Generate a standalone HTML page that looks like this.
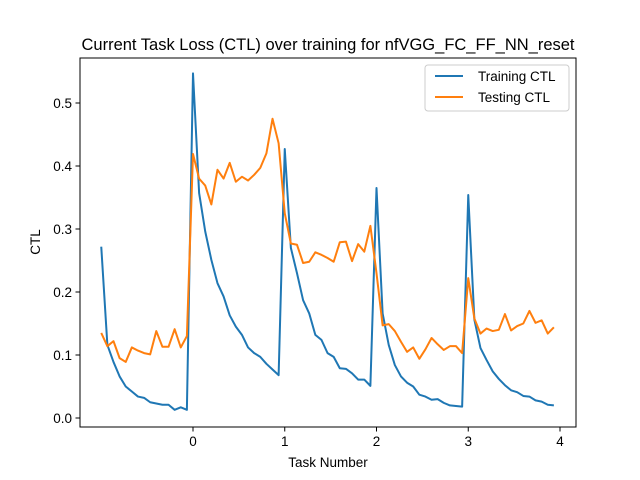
<!DOCTYPE html>
<html><head><meta charset="utf-8"><style>
body{margin:0;background:#fff}
svg{font-family:"Liberation Sans","DejaVu Sans",sans-serif;display:block}
</style></head><body>
<svg width="640" height="480" viewBox="0 0 640 480">
<rect x="0" y="0" width="640" height="480" fill="#fff"/>
<text x="328" y="50" font-size="16.5" text-anchor="middle">Current Task Loss (CTL) over training for nfVGG_FC_FF_NN_reset</text>
<g id="ticks"></g>
<g id="series"></g>
<rect x="80" y="58" width="496" height="369" fill="none" stroke="#000" stroke-width="1"/>
<text x="328" y="467" font-size="13.5" text-anchor="middle">Task Number</text>
<text x="40" y="242" font-size="13.5" text-anchor="middle" transform="rotate(-90 40 242)">CTL</text>
<g>
<rect x="425" y="65" width="144" height="46" rx="3" fill="#fff" fill-opacity="0.8" stroke="#ccc"/>
<line x1="435" y1="76" x2="463" y2="76" stroke="#1f77b4" stroke-width="2"/>
<text x="478" y="81" font-size="13.5">Training CTL</text>
<line x1="435" y1="97" x2="463" y2="97" stroke="#ff7f0e" stroke-width="2"/>
<text x="478" y="102" font-size="13.5">Testing CTL</text>
</g>
</svg>
<script>
const xTicks = [0, 1, 2, 3, 4];
const yTicks = [0.0, 0.1, 0.2, 0.3, 0.4, 0.5];
const yTickLabels = ["0.0", "0.1", "0.2", "0.3", "0.4", "0.5"];
const training = [0.272,0.116,0.089,0.066,0.050,0.042,0.034,0.032,0.025,0.023,0.021,0.021,0.013,0.017,0.013,
0.547,0.357,0.296,0.251,0.214,0.193,0.163,0.145,0.132,0.112,0.103,0.097,0.086,0.077,0.068,
0.427,0.270,0.230,0.187,0.166,0.132,0.124,0.103,0.097,0.079,0.078,0.071,0.061,0.061,0.051,
0.365,0.166,0.116,0.084,0.066,0.056,0.050,0.037,0.034,0.029,0.030,0.024,0.020,0.019,0.018,
0.354,0.156,0.111,0.092,0.074,0.062,0.052,0.044,0.041,0.035,0.034,0.028,0.026,0.021,0.020];
const testing = [0.135,0.114,0.122,0.095,0.089,0.112,0.107,0.103,0.101,0.138,0.113,0.113,0.141,0.112,0.130,
0.419,0.380,0.369,0.339,0.394,0.380,0.405,0.375,0.383,0.377,0.386,0.397,0.420,0.475,0.436,
0.325,0.277,0.275,0.246,0.248,0.263,0.259,0.254,0.248,0.279,0.280,0.249,0.276,0.264,0.305,
0.230,0.147,0.149,0.138,0.121,0.105,0.112,0.094,0.109,0.127,0.117,0.108,0.114,0.114,0.103,
0.222,0.158,0.134,0.142,0.138,0.140,0.165,0.139,0.146,0.150,0.170,0.151,0.155,0.134,0.144];
const stepsPerTask = 15;
const startTask = -1;
const NS = "http://www.w3.org/2000/svg";
function xScale(v){ return 193 + v * 91.75; }
function yScale(v){ return 418 - v * 630; }
const tg = document.getElementById('ticks');
xTicks.forEach(t => {
  const l = document.createElementNS(NS,'line');
  l.setAttribute('x1', xScale(t)); l.setAttribute('x2', xScale(t));
  l.setAttribute('y1', 427); l.setAttribute('y2', 431.5);
  l.setAttribute('stroke', '#000');
  
  
  tg.appendChild(l);
  const tx = document.createElementNS(NS,'text');
  tx.setAttribute('x', xScale(t)); tx.setAttribute('y', 446);
  tx.setAttribute('font-size', '13.5'); tx.setAttribute('text-anchor', 'middle');
  tx.textContent = String(t);
  
  
  tg.appendChild(tx);
});
yTicks.forEach((t, i) => {
  const l = document.createElementNS(NS,'line');
  l.setAttribute('x1', 75.5); l.setAttribute('x2', 80);
  l.setAttribute('y1', yScale(t)); l.setAttribute('y2', yScale(t));
  l.setAttribute('stroke', '#000');
  
  
  tg.appendChild(l);
  const tx = document.createElementNS(NS,'text');
  tx.setAttribute('x', 72); tx.setAttribute('y', yScale(t) + 5);
  tx.setAttribute('font-size', '13.5'); tx.setAttribute('text-anchor', 'end');
  tx.textContent = yTickLabels[i];
  
  
  tg.appendChild(tx);
});
const sg = document.getElementById('series');
function drawLine(vals, color, name){
  const pts = vals.map((v, i) => xScale(startTask + i / stepsPerTask).toFixed(2) + ',' + yScale(v).toFixed(2)).join(' ');
  const p = document.createElementNS(NS,'polyline');
  p.setAttribute('points', pts);
  p.setAttribute('fill', 'none');
  p.setAttribute('stroke', color);
  p.setAttribute('stroke-width', '2');
  p.setAttribute('stroke-linejoin', 'round');
  
  
  sg.appendChild(p);
}
drawLine(training, '#1f77b4', 'training-ctl-line');
drawLine(testing, '#ff7f0e', 'testing-ctl-line');
</script>
</body></html>
